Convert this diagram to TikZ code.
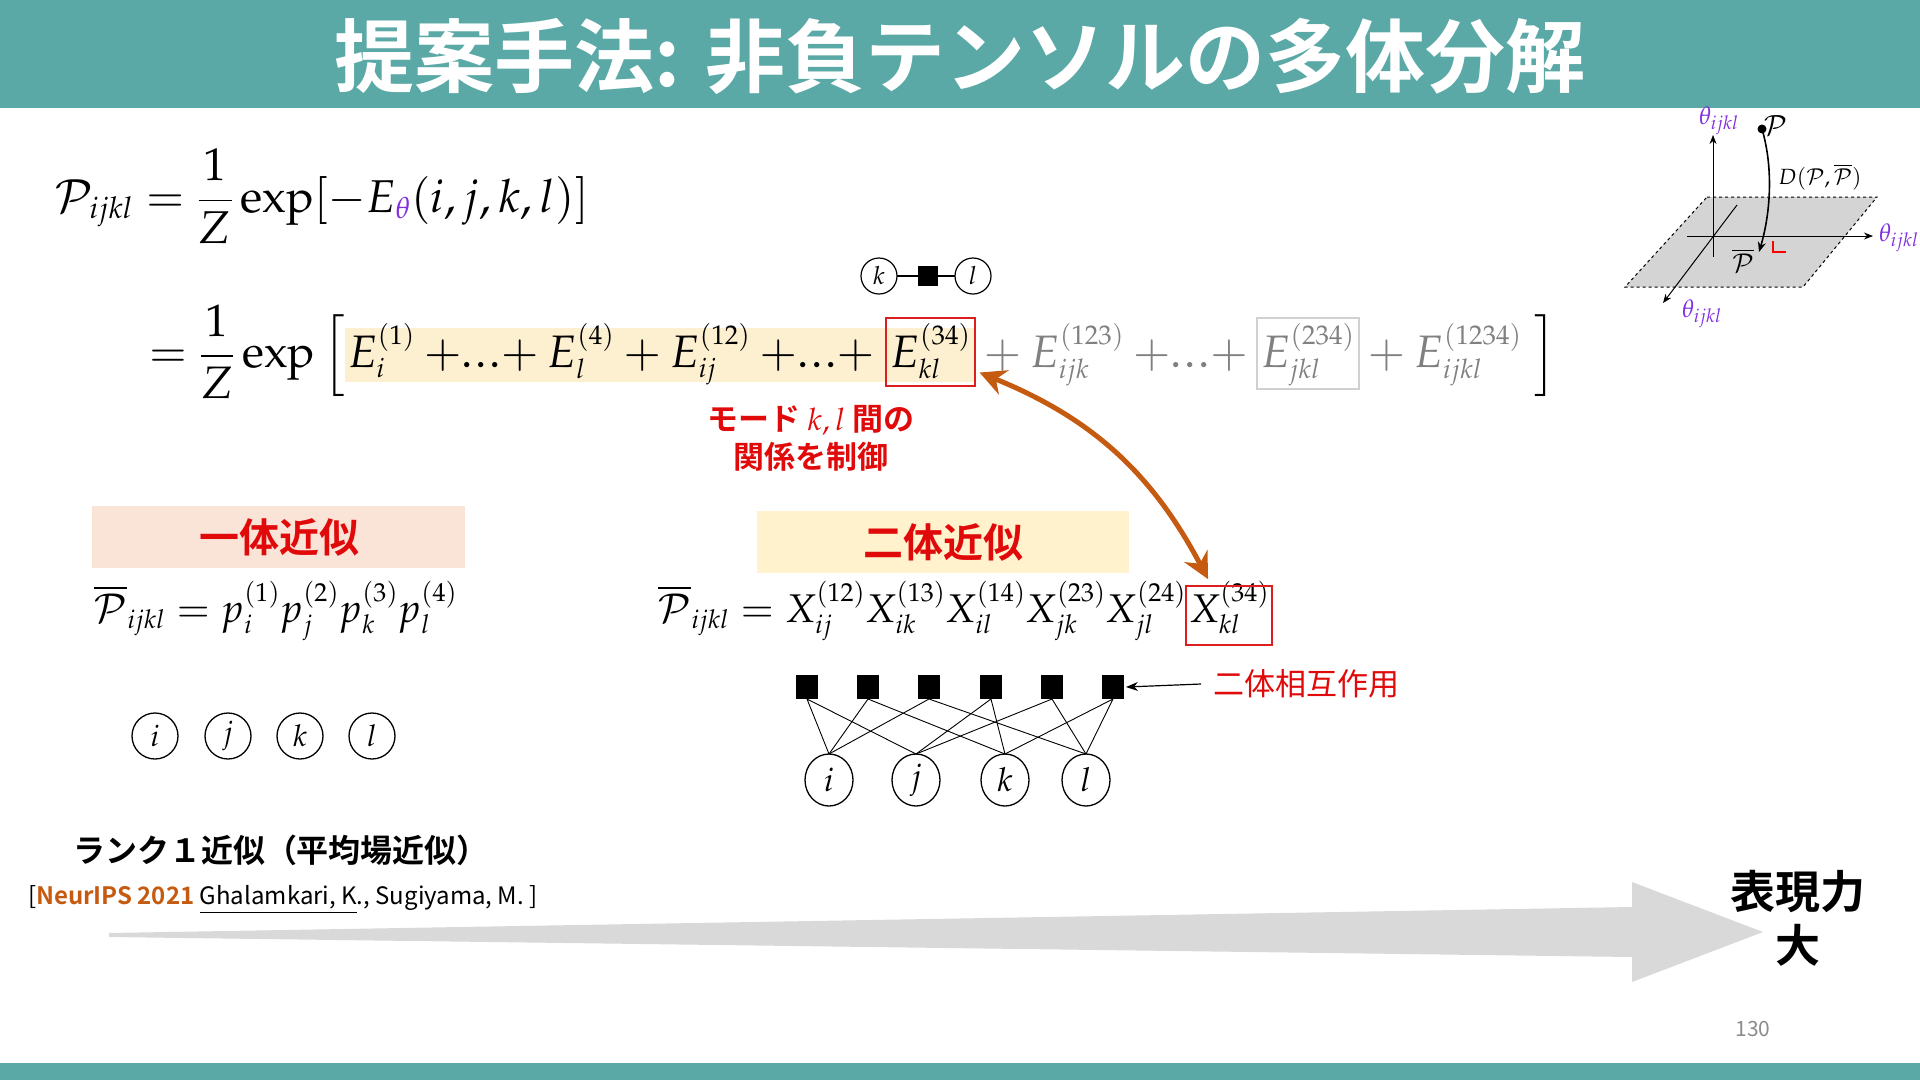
\documentclass[tikz,border=0pt]{standalone}
\usepackage{amsmath}
\usepackage{mathpazo}
\usepackage[no-math]{fontspec}
\newfontfamily\jp{Noto Sans CJK JP}[BoldFont={Noto Sans CJK JP Bold}]
\usetikzlibrary{backgrounds,calc,arrows.meta,shapes.geometric}
\definecolor{hdr}{RGB}{90,169,166}
\definecolor{thcol}{RGB}{128,48,224}
\definecolor{hlcol}{RGB}{253,240,208}
\definecolor{pinkbox}{RGB}{250,228,216}
\definecolor{yelbox}{RGB}{255,242,204}
\definecolor{boxred}{RGB}{220,30,30}
\definecolor{txtred}{RGB}{225,10,10}
\definecolor{orng}{RGB}{197,90,17}
\definecolor{eqgray}{RGB}{128,128,128}
\definecolor{lgbox}{RGB}{208,208,208}
\definecolor{arrgray}{RGB}{217,217,217}
\DeclareMathSizes{46}{46}{30}{22}
\DeclareMathSizes{45.5}{45.5}{27}{20}
\DeclareMathSizes{40}{40}{26}{19}
\newcommand\fsEq{\fontsize{46}{56}\selectfont}
\newcommand\fsEqT{\fontsize{45.5}{56}\selectfont}
\newcommand\fsEqB{\fontsize{40}{50}\selectfont}
\newcommand\mydots{\mathord{.\mkern1mu.\mkern1mu.}}
\newcommand\pdp{\mathbin{+\mydots+}}
\begin{document}
\begin{tikzpicture}[x=1pt,y=-1pt,
  every node/.style={inner sep=0pt, outer sep=0pt},
  eqn/.style={anchor=base west},
  vcirc/.style={draw, circle, line width=1.3pt, minimum size=46pt, font=\fontsize{30}{30}\selectfont},
  scirc/.style={draw, circle, line width=1.2pt, minimum size=36pt, font=\fontsize{25}{25}\selectfont},
  bcirc/.style={draw, ellipse, line width=1.3pt, minimum width=48pt, minimum height=52pt, font=\fontsize{33}{33}\selectfont},
  fsq/.style={fill=black, minimum width=22pt, minimum height=24pt},
  lbl/.style={font=\jp\bfseries\fontsize{40}{44}\selectfont, text=txtred},
  thl/.style={text=thcol, font=\fontsize{25}{25}\selectfont},
  edge/.style={line width=0.9pt}
]
\useasboundingbox (0,0) rectangle (1920,1080);
% bars
\fill[hdr] (0,0) rectangle (1920,108);
\fill[hdr] (0,1063) rectangle (1920,1080);
\node[font=\jp\bfseries\fontsize{80}{86}\selectfont, text=white] (title) at (960,56) {提案手法: 非負テンソルの多体分解};

% equation 1
\node[eqn] (eqA) at (55,212) {\fsEq$\mathcal{P}_{ijkl} = \dfrac{1}{Z}\exp[-E_{\textcolor{thcol}{\theta}}(i,j,k,l)]$};

% equation 2
\node[eqn] (e0) at (149,367) {\fsEqT$= \dfrac{1}{Z}\exp\Big[$};
\node[eqn, inner xsep=3pt] (e1) at (e0.base east) {\fsEqT$E_i^{(1)} \pdp E_l^{(4)} + E_{ij}^{(12)} \pdp{}$};
\node[eqn, inner xsep=4pt] (e2) at (e1.base east) {\fsEqT$E_{kl}^{(34)}$};
\node[eqn, text=eqgray] (e3) at (e2.base east) {\fsEqT${}+E_{ijk}^{(123)}\pdp{}$};
\node[eqn, inner xsep=4pt, text=eqgray] (e4) at (e3.base east) {\fsEqT$E_{jkl}^{(234)}$};
\node[eqn, text=eqgray] (e5) at (e4.base east) {\fsEqT${}+E_{ijkl}^{(1234)}$};
\node[eqn] (e6) at (e5.base east) {\fsEqT$\;\Big]$};
\begin{pgfonlayer}{background}
  \fill[hlcol] ($(e1.base west)+(0,-39)$) rectangle ($(e2.base east)+(0,15)$);
\end{pgfonlayer}
\draw[boxred, line width=1.8pt] ($(e2.base west)+(0,-49)$) rectangle ($(e2.base east)+(0,19)$);
\draw[lgbox, line width=1.8pt] ($(e4.base west)+(0,-49)$) rectangle ($(e4.base east)+(0,22)$);

% small k-l graph
\node[scirc] (gk) at (879,276) {$k$};
\node[fsq, minimum width=20pt, minimum height=20pt] (gs) at (928,276) {};
\node[scirc] (gl) at (973,276) {$l$};
\draw[line width=1.2pt] (gk) -- (gs) -- (gl);

% red label
\node[font=\jp\bfseries\fontsize{31}{38}\selectfont, text=txtred, align=center] (modelbl) at (811,438) {モード $k, l$ 間の\\関係を制御};

% boxes
\fill[pinkbox] (92,506) rectangle (465,568);
\node[lbl] (one) at (279,537) {一体近似};
\fill[yelbox] (757,511) rectangle (1129,573);
\node[lbl] (two) at (943,542) {二体近似};

% left equation
\node[eqn] (eqL) at (94,622) {\fsEqB$\overline{\mathcal{P}}_{ijkl} = p_i^{(1)}p_j^{(2)}p_k^{(3)}p_l^{(4)}$};
% right equation
\node[eqn] (eqR0) at (658,622) {\fsEqB$\overline{\mathcal{P}}_{ijkl} = X_{ij}^{(12)}X_{ik}^{(13)}X_{il}^{(14)}X_{jk}^{(23)}X_{jl}^{(24)}$};
\node[eqn, inner xsep=3pt] (eqR1) at (eqR0.base east) {\fsEqB$X_{kl}^{(34)}$};
\draw[boxred, line width=1.8pt] ($(eqR1.base west)+(0,-36)$) rectangle ($(eqR1.base east)+(0,23)$);

% left circles
\node[vcirc] (li) at (155,736) {$i$};
\node[vcirc] (lj) at (228,736) {$j$};
\node[vcirc] (lk) at (300,736) {$k$};
\node[vcirc] (ll) at (372,736) {$l$};

% bipartite graph
\node[fsq] (s1) at (807,687) {};
\node[fsq] (s2) at (868,687) {};
\node[fsq] (s3) at (929,687) {};
\node[fsq] (s4) at (991,687) {};
\node[fsq] (s5) at (1052,687) {};
\node[fsq] (s6) at (1113,687) {};
\node[bcirc] (bi) at (829,780) {$i$};
\node[bcirc] (bj) at (916,780) {$j$};
\node[bcirc] (bk) at (1005,780) {$k$};
\node[bcirc] (bl) at (1086,780) {$l$};
\draw[edge] (s1.south) -- (bi.north) (s1.south) -- (bj.north);
\draw[edge] (s2.south) -- (bi.north) (s2.south) -- (bk.north);
\draw[edge] (s3.south) -- (bi.north) (s3.south) -- (bl.north);
\draw[edge] (s4.south) -- (bj.north) (s4.south) -- (bk.north);
\draw[edge] (s5.south) -- (bj.north) (s5.south) -- (bl.north);
\draw[edge] (s6.south) -- (bk.north) (s6.south) -- (bl.north);
\node[anchor=west, font=\jp\fontsize{31}{31}\selectfont, text=txtred] (inter) at (1213,684) {二体相互作用};
\draw[line width=1.2pt, -{Stealth[length=12pt,width=9pt]}] ([xshift=-12pt]inter.west) -- ([xshift=2pt]s6.east);

% orange double arrow
\draw[orng, line width=5pt, {Stealth[length=26pt,width=26pt]}-{Stealth[length=26pt,width=26pt]}]
  ($(e2.south east)+(5,-6)$) to[bend left=20] ($(eqR1.north)+(-21,-2)$);

% rank-1 text and citation
\node[anchor=west, font=\jp\bfseries\fontsize{32}{32}\selectfont] (rank) at (73,850) {ランク１近似（平均場近似）};
\node[anchor=west, font=\jp\fontsize{24}{24}\selectfont] (cite) at (28,900) {[{\color{orng}\bfseries NeurIPS 2021} \underline{Ghalamkari, K}., Sugiyama, M. ]};

% big gray arrow
\fill[arrgray] (109,933) -- (1632,907) -- (1632,882) -- (1763,932) -- (1632,982) -- (1632,957) -- (109,937) -- cycle;
\node[font=\jp\bfseries\fontsize{45}{54}\selectfont, align=center] (expr) at (1798,918) {表現力\\大};
\node[font=\jp\fontsize{21}{21}\selectfont, text=black!45] (pnum) at (1753,1029) {130};

% inset figure
\fill[black!17] (1707,197) -- (1877,197) -- (1803,287) -- (1625,287) -- cycle;
\draw[dashed, line width=1pt] (1707,197) -- (1877,197) -- (1803,287) -- (1625,287) -- cycle;
\coordinate (vb) at (1713,257);
\coordinate (vt) at (1713,135);
\coordinate (hl) at (1687,236);
\coordinate (hr) at (1873,236);
\coordinate (db) at (1737,205);
\coordinate (df) at (1663,303);
\draw[line width=1pt, -{Stealth[length=9pt,width=7pt]}] (vb) -- (vt);
\draw[line width=1pt, -{Stealth[length=9pt,width=7pt]}] (hl) -- (hr);
\draw[line width=1pt, -{Stealth[length=9pt,width=7pt]}] (db) -- (df);
\node[thl] (th1) at (1719,121) {$\theta_{ijkl}$};
\node[thl] (th2) at (1899,238) {$\theta_{ijkl}$};
\node[thl] (th3) at (1702,314) {$\theta_{ijkl}$};
\coordinate (pp) at (1762,129);
\fill (pp) circle (4.5);
\node[anchor=west, font=\fontsize{28}{28}\selectfont] (plbl) at (1764,126) {$\mathcal{P}$};
\coordinate (pbar) at (1759,252);
\draw[line width=1.6pt, -{Stealth[length=10pt,width=8pt]}] (pp) .. controls (1774,170) and (1770,215) .. (pbar);
\node[font=\fontsize{22}{22}\selectfont] (dlbl) at (1820,177) {$D(\mathcal{P},\overline{\mathcal{P}})$};
\node[font=\fontsize{26}{26}\selectfont] (pbl) at (1743,261) {$\overline{\mathcal{P}}$};
\draw[red, line width=1.2pt] (1773,241) -- (1773,252) -- (1786,252);
\end{tikzpicture}
\end{document}
